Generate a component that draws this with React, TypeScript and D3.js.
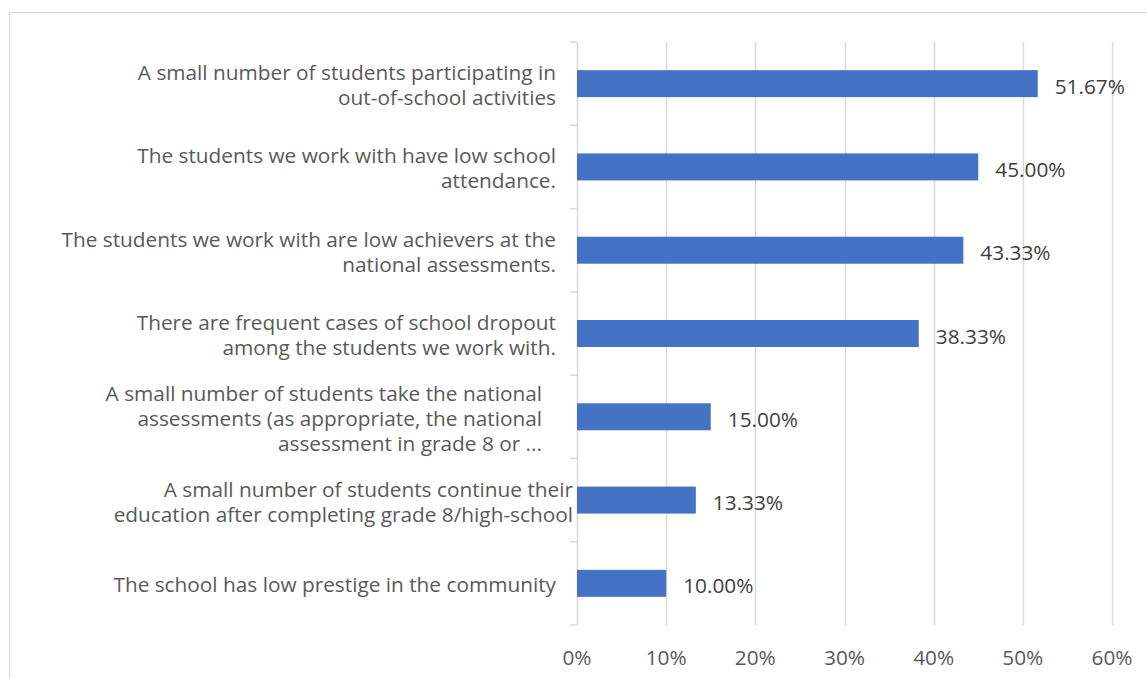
import React from "react";
import * as d3 from "d3";

// ---- data ----
const categories: string[][] = [
  ["A small number of students participating in", "out-of-school activities"],
  ["The students we work with have low school", "attendance."],
  ["The students we work with are low achievers at the", "national assessments."],
  ["There are frequent cases of school dropout", "among the students we work with."],
  [
    "A small number of students take the national",
    "assessments (as appropriate, the national",
    "assessment in grade 8 or ...",
  ],
  ["A small number of students continue their", "education after completing grade 8/high-school"],
  ["The school has low prestige in the community"],
];
const values: number[] = [0.5167, 0.45, 0.4333, 0.3833, 0.15, 0.1333, 0.1];
const valueLabels: string[] = ["51.67%", "45.00%", "43.33%", "38.33%", "15.00%", "13.33%", "10.00%"];
const xTicks: number[] = [0, 0.1, 0.2, 0.3, 0.4, 0.5, 0.6];

// ---- layout ----
const W = 1147;
const H = 679;
const plotLeft = 577;
const plotRight = 1112;
const plotTop = 42;
const plotBottom = 625;
const labelGap = [21, 21, 21, 21, 35, 4, 21];
const FONT = "'Open Sans', sans-serif";
const FS = 20.8;
const LINE = 25;

export default function App() {
  const x = d3.scaleLinear().domain([0, 0.6]).range([plotLeft, plotRight]);
  const ids = categories.map((_, i) => String(i));
  const y = d3
    .scaleBand<string>()
    .domain(ids)
    .range([plotTop, plotBottom])
    .paddingInner(0.676)
    .paddingOuter(0.338);
  const step = y.step();
  const bounds = d3.range(categories.length + 1).map((i) => plotTop + i * step);

  return (
    <div style={{ position: "fixed", left: 0, top: 0 }}>
      <svg width={W} height={H} style={{ display: "block", background: "#fff" }}>
        <rect x={9.5} y={12.5} width={W + 20} height={H + 20} fill="#fff" stroke="#d9d9d9" strokeWidth={1} />
        {/* gridlines */}
        {xTicks.slice(1).map((t) => (
          <line key={t} x1={Math.round(x(t)) + 0.5} x2={Math.round(x(t)) + 0.5} y1={plotTop} y2={plotBottom} stroke="#d9d9d9" strokeWidth={1.5} />
        ))}
        {/* axis line and ticks */}
        <line x1={plotLeft + 0.5} x2={plotLeft + 0.5} y1={plotTop} y2={plotBottom} stroke="#d9d9d9" strokeWidth={1.5} />
        {bounds.map((b, i) => (
          <line key={i} x1={plotLeft - 7} x2={plotLeft} y1={b} y2={b} stroke="#d9d9d9" strokeWidth={1.5} />
        ))}
        {/* bars */}
        {values.map((v, i) => (
          <rect key={i} x={x(0)} y={y(String(i))!} width={x(v) - x(0)} height={y.bandwidth()} fill="#4472c4" />
        ))}
        {/* value labels */}
        {values.map((v, i) => (
          <text
            key={i}
            x={x(v) + 17}
            y={y(String(i))! + y.bandwidth() / 2 + 10}
            fontFamily={FONT}
            fontSize={FS}
            fill="#404040"
          >
            {valueLabels[i]}
          </text>
        ))}
        {/* category labels */}
        {categories.map((lines, i) => {
          const c = y(String(i))! + y.bandwidth() / 2;
          const n = lines.length;
          return (
            <text key={i} fontFamily={FONT} fontSize={FS} fill="#595959" textAnchor="end">
              {lines.map((ln, j) => (
                <tspan key={j} x={plotLeft - labelGap[i]} y={c + (j - (n - 1) / 2) * LINE + 9}>
                  {ln}
                </tspan>
              ))}
            </text>
          );
        })}
        {/* x tick labels */}
        {xTicks.map((t) => (
          <text key={t} x={x(t)} y={665} textAnchor="middle" fontFamily={FONT} fontSize={FS} fill="#595959">
            {d3.format(".0%")(t)}
          </text>
        ))}
      </svg>
    </div>
  );
}
